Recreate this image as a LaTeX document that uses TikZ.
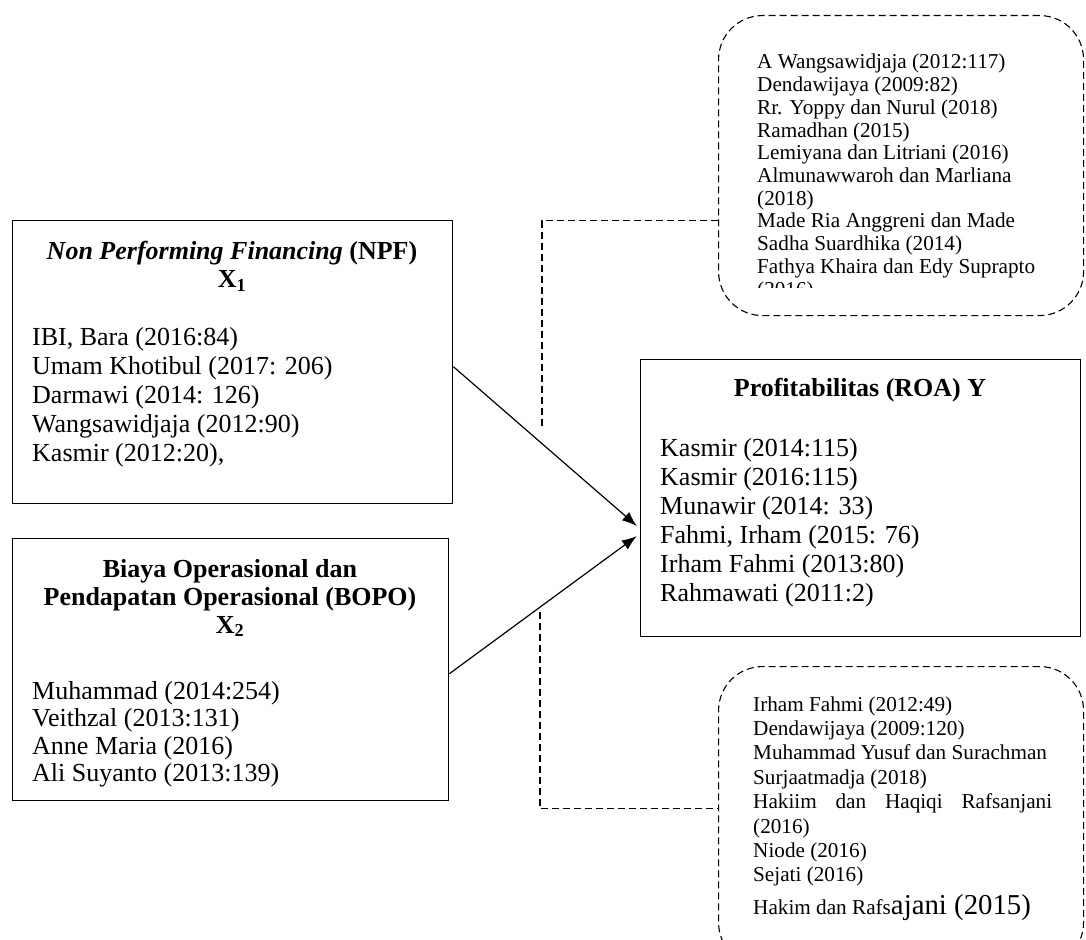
\documentclass[tikz,border=0pt]{standalone}
\usepackage{fontspec}
\setmainfont{Liberation Serif}
\usetikzlibrary{arrows.meta}

\tikzset{
  varbox/.style={draw, line width=1.4pt, inner sep=0pt, anchor=north west},
  refbox/.style={draw, line width=1.1pt, dash pattern=on 7pt off 4pt, rounded corners=44pt, inner sep=0pt, anchor=north west},
  link/.style={line width=1.1pt, dash pattern=on 7pt off 4pt},
  flow/.style={line width=1.2pt, -{Latex[length=15pt,width=11pt]}, shorten >=4pt},
  head/.style={font=\bfseries\fontsize{26}{28}\selectfont, align=center, inner sep=0pt},
  bigtxt/.style={font=\fontsize{26}{29}\selectfont, anchor=base west, inner sep=0pt},
  smalltxt/.style={font=\fontsize{21.2}{24}\selectfont, anchor=base west, inner sep=0pt}
}

\begin{document}
\begin{tikzpicture}[x=1pt, y=-1pt]

    \useasboundingbox (0,0) rectangle (1086,939);
    \clip (0,0) rectangle (1086,939);

    % Variable boxes
    \node[varbox, minimum width=440pt, minimum height=283pt] (npf) at (12,220) {};
    \node[varbox, minimum width=436pt, minimum height=262pt] (bopo) at (12,538) {};
    \node[varbox, minimum width=440pt, minimum height=277pt] (roa) at (640,359) {};

    % Reference boxes
    \node[refbox, minimum width=365pt, minimum height=300pt] (ref1) at (718,15) {};
    \node[refbox, minimum width=365pt, minimum height=300pt] (ref2) at (718,666) {};

    % Titles
    \node[head] (npfhead) at (232,266) {\textit{Non Performing Financing} (NPF)\\ X\textsubscript{1}};
    \node[head] (bopohead) at (230,598) {Biaya Operasional dan\\ Pendapatan Operasional (BOPO)\\ X\textsubscript{2}};
    \node[head] (roahead) at (860,390) {Profitabilitas (ROA) Y};

    % Lists
    \foreach \t [count=\i from 0] in {{IBI, Bara (2016:84)}, {Umam Khotibul (2017: 206)}, {Darmawi (2014: 126)}, {Wangsawidjaja (2012:90)}, {Kasmir (2012:20),}}
        \node[bigtxt] (npf\i) at (32, 345+29*\i) {\t};

    \foreach \t [count=\i from 0] in {{Muhammad (2014:254)}, {Veithzal (2013:131)}, {Anne Maria (2016)}, {Ali Suyanto (2013:139)}}
        \node[bigtxt] (bopo\i) at (32, 699+27.5*\i) {\t};

    \foreach \t [count=\i from 0] in {{Kasmir (2014:115)}, {Kasmir (2016:115)}, {Munawir (2014: 33)}, {Fahmi, Irham (2015: 76)}, {Irham Fahmi (2013:80)}, {Rahmawati (2011:2)}}
        \node[bigtxt] (roa\i) at (660, 456+29*\i) {\t};

    \begin{scope}
        \clip (740,20) rectangle (1075,287);
        \foreach \t [count=\i from 0] in {{A Wangsawidjaja (2012:117)}, {Dendawijaya (2009:82)}, {Rr. Yoppy dan Nurul (2018)}, {Ramadhan (2015)}, {Lemiyana dan Litriani (2016)}, {Almunawwaroh dan Marliana}, {(2018)}, {Made Ria Anggreni dan Made}, {Sadha Suardhika (2014)}, {Fathya Khaira dan Edy Suprapto}, {(2016)}}
            \node[smalltxt] (lit\i) at (757, 69+22.7*\i) {\t};
    \end{scope}

    \foreach \t [count=\i from 0] in {{Irham Fahmi (2012:49)}, {Dendawijaya (2009:120)}, {Muhammad Yusuf dan Surachman}, {Surjaatmadja (2018)}, {\makebox[299pt][s]{Hakiim dan Haqiqi Rafsanjani}}, {(2016)}, {Niode (2016)}, {Sejati (2016)}}
        \node[smalltxt] (src\i) at (753, 711+24.4*\i) {\t};
    \node[smalltxt] (src8) at (753, 914) {Hakim dan Rafs{\fontsize{28.8}{32}\selectfont ajani (2015)}};

    % Arrows to Y
    \draw[flow] ([yshift=-4.5pt]npf.east) -- ([yshift=-30.5pt]roa.west);
    \draw[flow] ([yshift=-4pt]bopo.east) -- ([yshift=-35.5pt]roa.west);

    % Dashed links
    \coordinate (topend) at (542,428);
    \coordinate (botend) at (540,612);
    \draw[link] ([yshift=-55pt]ref1.west) -| (topend);
    \draw[link] (botend) |- ([yshift=8pt]ref2.west);

\end{tikzpicture}
\end{document}
